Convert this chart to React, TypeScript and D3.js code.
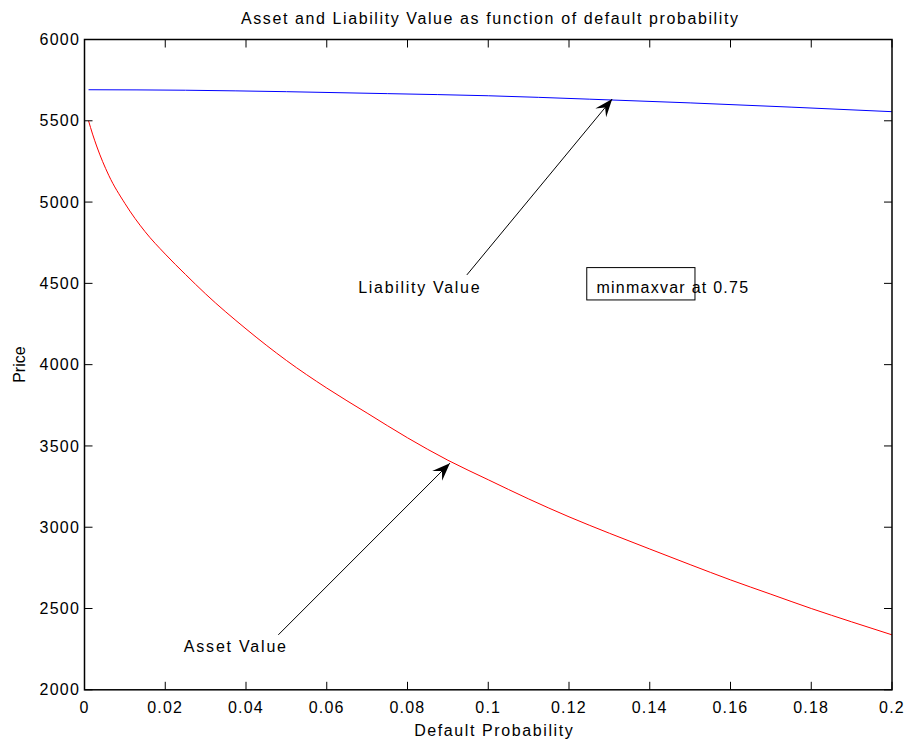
import React from "react";
import * as d3 from "d3";

const W = 911;
const H = 743;

const assetX = [0.001, 0.002, 0.003, 0.006, 0.01, 0.015, 0.02, 0.025, 0.03, 0.04, 0.05, 0.06, 0.07, 0.08, 0.09, 0.1, 0.11, 0.12, 0.13, 0.14, 0.15, 0.16, 0.17, 0.18, 0.19, 0.2];
const assetY = [5500, 5418, 5345, 5165, 4992, 4818, 4680, 4555, 4435, 4220, 4026, 3856, 3702, 3550, 3412, 3292, 3174, 3064, 2963, 2866, 2770, 2676, 2588, 2500, 2418, 2338];

const liabX = [0.001, 0.025, 0.05, 0.075, 0.1, 0.125, 0.15, 0.175, 0.2];
const liabY = [5691, 5688, 5679, 5667, 5654, 5633, 5610, 5584, 5556];

const xTicks = [0, 0.02, 0.04, 0.06, 0.08, 0.1, 0.12, 0.14, 0.16, 0.18, 0.2];
const xTickLabels = ["0", "0.02", "0.04", "0.06", "0.08", "0.1", "0.12", "0.14", "0.16", "0.18", "0.2"];
const yTicks = [2000, 2500, 3000, 3500, 4000, 4500, 5000, 5500, 6000];

const title = "Asset and Liability Value as function of default probability";
const xLabel = "Default Probability";
const yLabel = "Price";

// annotations in data coordinates
const liabArrow = { from: [0.0947, 4552], to: [0.1307, 5634], label: "Liability Value", at: [0.0678, 4441] };
const assetArrow = { from: [0.048, 2338], to: [0.0905, 3394], label: "Asset Value", at: [0.0246, 2232] };
const boxNote = { text: "minmaxvar at 0.75", at: [0.1268, 4441], box: [0.1244, 4597, 0.1512, 4398] };

const FONT = "'Liberation Sans', Arial, Helvetica, sans-serif";

export default function App() {
  const left = 84.5, right = 892, top = 39.5, bottom = 689.8;
  const x = d3.scaleLinear().domain([0, 0.2]).range([left, right]);
  const y = d3.scaleLinear().domain([2000, 6000]).range([bottom, top]);

  const line = d3
    .line<[number, number]>()
    .x(d => x(d[0]))
    .y(d => y(d[1]))
    .curve(d3.curveMonotoneX);
  const assetPts = assetX.map((v, i) => [v, assetY[i]] as [number, number]);
  const liabPts = liabX.map((v, i) => [v, liabY[i]] as [number, number]);

  const tickLen = 8;

  const arrow = (a: { from: number[]; to: number[] }, key: string) => {
    const x1 = x(a.from[0]), y1 = y(a.from[1]);
    const x2 = x(a.to[0]), y2 = y(a.to[1]);
    const ang = (Math.atan2(y2 - y1, x2 - x1) * 180) / Math.PI;
    const L = 18, Wd = 7;
    return (
      <g key={key}>
        <line x1={x1} y1={y1} x2={x2} y2={y2} stroke="#000" strokeWidth={1} />
        <path
          d={`M0,0 L${-L},${-Wd} L${-L * 0.62},0 L${-L},${Wd} Z`}
          transform={`translate(${x2},${y2}) rotate(${ang})`}
          fill="#000"
        />
      </g>
    );
  };

  return (
    <svg width={W} height={H} style={{ position: "absolute", left: 0, top: 0, background: "#fff" }} fontFamily={FONT}>
      <rect x={0} y={0} width={W} height={H} fill="#fff" />
      {/* curves */}
      <path d={line(liabPts) || ""} fill="none" stroke="#0000ff" strokeWidth={1} />
      <path d={line(assetPts) || ""} fill="none" stroke="#ff0000" strokeWidth={1} />

      {/* frame */}
      <rect x={left} y={top} width={right - left} height={bottom - top} fill="none" stroke="#000" strokeWidth={1.5} />
      {xTicks.map((t, i) => (
        <g key={"xt" + i}>
          <line x1={x(t)} x2={x(t)} y1={bottom} y2={bottom - tickLen} stroke="#000" strokeWidth={1} />
          <line x1={x(t)} x2={x(t)} y1={top} y2={top + tickLen} stroke="#000" strokeWidth={1} />
          <text x={x(t)} y={713} textAnchor="middle" fontSize={16} letterSpacing={1.2} fill="#000">
            {xTickLabels[i]}
          </text>
        </g>
      ))}
      {yTicks.map((t, i) => (
        <g key={"yt" + i}>
          <line x1={left} x2={left + tickLen} y1={y(t)} y2={y(t)} stroke="#000" strokeWidth={1} />
          <line x1={right} x2={right - tickLen} y1={y(t)} y2={y(t)} stroke="#000" strokeWidth={1} />
          <text x={80} y={y(t)} dy="0.35em" textAnchor="end" fontSize={16} letterSpacing={1.2} fill="#000">
            {t}
          </text>
        </g>
      ))}

      {/* titles */}
      <text x={(left + right) / 2 + 2} y={24} textAnchor="middle" fontSize={16} letterSpacing={1.6} fill="#000">
        {title}
      </text>
      <text x={(left + right) / 2 + 6} y={736} textAnchor="middle" fontSize={16} letterSpacing={1.6} fill="#000">
        {xLabel}
      </text>
      <text transform={`translate(25,${(top + bottom) / 2}) rotate(-90)`} textAnchor="middle" fontSize={16} fill="#000">
        {yLabel}
      </text>

      {/* annotations */}
      {arrow(liabArrow, "la")}
      {arrow(assetArrow, "aa")}
      <text x={x(liabArrow.at[0])} y={y(liabArrow.at[1])} fontSize={16} letterSpacing={1.7} fill="#000">
        {liabArrow.label}
      </text>
      <text x={x(assetArrow.at[0])} y={y(assetArrow.at[1])} fontSize={16} letterSpacing={1.8} fill="#000">
        {assetArrow.label}
      </text>
      <rect
        x={x(boxNote.box[0])}
        y={y(boxNote.box[1])}
        width={x(boxNote.box[2]) - x(boxNote.box[0])}
        height={y(boxNote.box[3]) - y(boxNote.box[1])}
        fill="none"
        stroke="#000"
        strokeWidth={1}
      />
      <text x={x(boxNote.at[0])} y={y(boxNote.at[1])} fontSize={16} letterSpacing={1.25} fill="#000">
        {boxNote.text}
      </text>
    </svg>
  );
}
